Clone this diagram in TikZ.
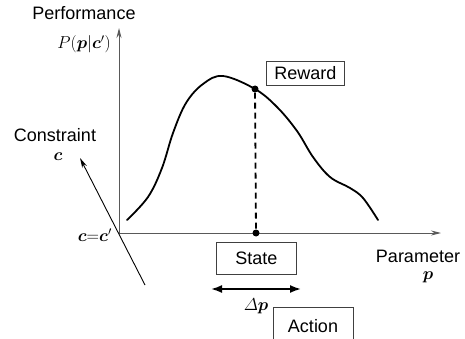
\documentclass[tikz,border=0pt]{standalone}
\usepackage{amsmath,bm}
\usepackage{fontspec}
\setmainfont{Liberation Sans}
\usetikzlibrary{arrows.meta}
\begin{document}
\begin{tikzpicture}[x=1pt,y=-1pt,
  lbl/.style={font=\fontsize{18}{20}\selectfont, inner sep=0pt},
  mlbl/.style={font=\fontsize{18}{20}\selectfont, inner sep=0pt},
  boxed/.style={draw=black!75, line width=0.8pt, font=\fontsize{18}{20}\selectfont, inner sep=0pt, anchor=north west},
  axis/.style={draw=black!65, line width=1pt, -{Stealth[length=10pt,width=5pt]}},
  curve/.style={line width=1.8pt, line cap=round},
  dot/.style={circle, fill=black, inner sep=0pt, minimum size=7pt}]
\useasboundingbox (0,0) rectangle (465,339);
% axes
\coordinate (O) at (119,233);
\coordinate (vtop) at (119,28);
\coordinate (hend) at (441,233);
\coordinate (sstart) at (145,285);
\coordinate (stip) at (80,158);
\draw[axis] (O) -- (vtop);
\draw[axis] (O) -- (hend);
\draw[draw=black, line width=0.9pt, -{Stealth[length=10pt,width=5pt]}] (sstart) -- (stip);
% curve
\draw[curve] plot[smooth, tension=0.6] coordinates {(127,220) (148,197) (162,168) (173,133) (186,103) (203,84) (223,76) (255,89) (277,107) (297,131) (313,157) (330,177) (350,188) (363,198) (378,220)};
\node[dot] (top) at (255,89) {};
\node[dot] (bot) at (256,233) {};
\draw[line width=1.8pt, dash pattern=on 6pt off 4pt] (top) -- (bot);
% labels
\node[lbl] (perf) at (84,13) {Performance};
\node[mlbl, anchor=east] (P) at (111,44) {$P(\bm{p}|\bm{c}')$};
\node[lbl] (cons) at (55,135) {Constraint};
\node[mlbl] (c) at (58,157) {$\bm{c}$};
\node[mlbl, anchor=east] (cc) at (112,235) {$\bm{c}{=}\bm{c}'$};
\node[lbl] (param) at (418,256) {Parameter};
\node[mlbl] (pp) at (428,277) {$\bm{p}$};
% boxes
\node[boxed, minimum width=78pt, minimum height=24pt] (reward) at (266,61) {Reward};
\node[boxed, minimum width=80pt, minimum height=32pt] (state) at (216,242) {State};
\node[boxed, minimum width=80pt, minimum height=40pt] (action) at (273,307) {};
\node[lbl] (actiontxt) at (313,326) {Action};
% delta p
\coordinate (dl) at (211,289);
\coordinate (dr) at (301,289);
\draw[line width=1.8pt, {Latex[length=11pt,width=8pt]}-{Latex[length=11pt,width=8pt]}] (dl) -- (dr);
\node[mlbl] (dp) at (256,306) {$\varDelta\bm{p}$};
\end{tikzpicture}
\end{document}
